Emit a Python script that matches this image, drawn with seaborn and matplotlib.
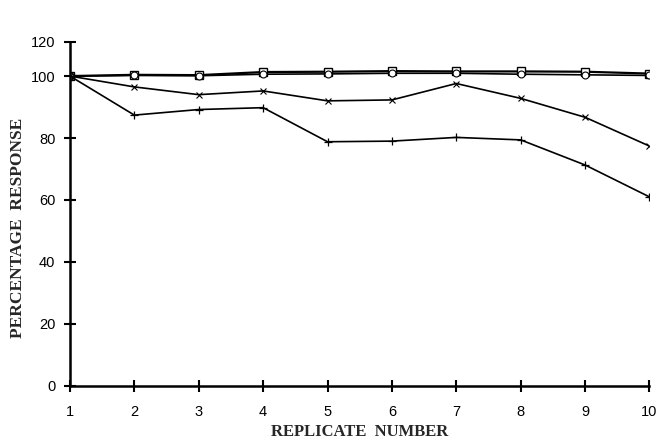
import numpy as np
import pandas as pd
import matplotlib
matplotlib.use("Agg")
import matplotlib.pyplot as plt
import seaborn as sns

sns.set_style("ticks")
plt.rcParams['font.family'] = ['Liberation Sans', 'DejaVu Sans']

replicate = [1, 2, 3, 4, 5, 6, 7, 8, 9, 10]
square_a = [100, 100.4, 100.3, 101.3, 101.4, 101.6, 101.5, 101.5, 101.4, 100.8]
square_b = [100, 100.2, 100.1, 100.6, 100.7, 100.9, 100.9, 100.6, 100.4, 100.2]
cross_x = [100, 96.5, 94.0, 95.2, 92.0, 92.3, 97.6, 92.8, 86.7, 77.4]
cross_plus = [100, 87.4, 89.2, 89.8, 78.8, 79.0, 80.2, 79.4, 71.3, 61.0]

ytick_vals = [0, 20, 40, 60, 80, 100, 111]
ytick_labels = ['0', '20', '40', '60', '80', '100', '120']

fig = plt.figure(figsize=(6.57, 4.42), dpi=100)
ax = fig.add_axes([0.1065, 0.127, 0.882, 0.778])

sns.lineplot(x=replicate, y=square_a, ax=ax, color='black', lw=1.6,
             marker='s', markersize=6, markerfacecolor='white',
             markeredgecolor='black', markeredgewidth=1.0)
sns.lineplot(x=replicate, y=square_b, ax=ax, color='black', lw=1.2,
             marker='o', markersize=5, markerfacecolor='white',
             markeredgecolor='black', markeredgewidth=0.8)
sns.lineplot(x=replicate, y=cross_x, ax=ax, color='black', lw=1.2,
             marker='x', markersize=5, markeredgecolor='black',
             markeredgewidth=0.8)
sns.lineplot(x=replicate, y=cross_plus, ax=ax, color='black', lw=1.2,
             marker='+', markersize=6, markeredgecolor='black',
             markeredgewidth=0.9)

ax.set_xlim(1, 10)
ax.set_ylim(0, 111)
ax.set_xticks(replicate)
ax.set_yticks(ytick_vals)
ax.set_yticklabels(ytick_labels)
sns.despine(ax=ax)
for side in ['left', 'bottom']:
    ax.spines[side].set_linewidth(1.8)
    ax.spines[side].set_color('black')
ax.tick_params(axis='both', direction='inout', length=9, width=1.5,
               labelsize=10.5, colors='black', pad=6)
ax.tick_params(axis='x', pad=9)

ax.set_xlabel('REPLICATE  NUMBER', fontsize=12, fontweight='bold',
              family='Liberation Serif')
ax.set_ylabel('PERCENTAGE  RESPONSE', fontsize=12.5, fontweight='bold',
              family='Liberation Serif')
ax.xaxis.set_label_coords(0.5, -0.112)
ax.yaxis.set_label_coords(-0.076, 0.46)

fig.savefig('out.png', dpi=100)
